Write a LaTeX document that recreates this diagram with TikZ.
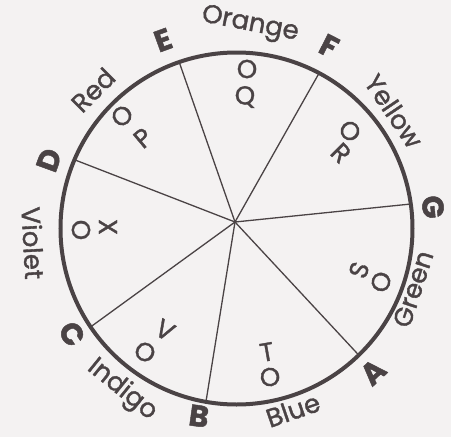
\documentclass[tikz,border=0pt]{standalone}
\usepackage{fontspec}
\setmainfont{Poppins}
\newfontfamily\handfont[FakeBold=1.3]{Poppins}
\newfontfamily\handbold[FakeBold=1.5]{Poppins Bold}
\definecolor{ink}{HTML}{4A4345}
\definecolor{paper}{HTML}{F4F2F2}
\tikzset{
  colname/.style={text=ink, font=\handfont\fontsize{26}{26}\selectfont, inner sep=0pt},
  pointlbl/.style={text=ink, font=\handbold\fontsize{30}{30}\selectfont, inner sep=0pt},
  innerlbl/.style={text=ink, font=\handfont\fontsize{26}{26}\selectfont, inner sep=0pt},
  spoke/.style={draw=ink, line width=1.3pt},
  rim/.style={circle, draw=ink, line width=4pt, minimum size=352pt, inner sep=0pt, outer sep=0pt}
}
\begin{document}
\begin{tikzpicture}[x=1pt,y=1pt]
\fill[paper] (0,0) rectangle (451,-437);
\useasboundingbox (0,0) rectangle (451,-437);
\node[rim] (wheel) at (236.5,-228.5) {};
\coordinate (hub) at (235,-222);
\foreach \n/\a in {E/109.2, F/62.3, G/8.6, A/-46.7, B/-100.9, C/-146.9, D/157.2}{
  \coordinate (p\n) at (wheel.\a);
}
\draw[spoke] (hub) -- (pE);
\draw[spoke] (hub) -- (pF);
\draw[spoke] (hub) -- (pG);
\draw[spoke] (hub) -- (pA);
\draw[spoke] (hub) -- (pB);
\draw[spoke] (hub) -- (pC);
\draw[spoke] (hub) -- (pD);
% colour names
\node[colname, rotate=-11] (orange) at (250,-25) {Orange};
\node[colname, rotate=-56] (yellow) at (394,-111) {Yellow};
\node[colname, rotate=72] (green) at (413,-289) {Green};
\node[colname, rotate=19] (blue) at (293,-410) {Blue};
\node[colname, rotate=-39] (indigo) at (122,-390) {Indigo};
\node[colname, rotate=-87] (violet) at (33,-243) {Violet};
\node[colname, rotate=45] (red) at (93,-90) {Red};
% point letters
\node[pointlbl, rotate=20] (lE) at (163,-40) {E};
\node[pointlbl, rotate=-27] (lF) at (329,-46) {F};
\node[pointlbl, rotate=-84] (lG) at (433,-207) {G};
\node[pointlbl, rotate=43] (lA) at (373,-372) {A};
\node[pointlbl, rotate=-8] (lB) at (199,-416) {B};
\node[pointlbl, rotate=-57] (lC) at (72,-334) {C};
\node[pointlbl, rotate=70] (lD) at (49,-160) {D};
% inner labels
\node[innerlbl] (o1) at (247,-69) {O};
\node[innerlbl] (q1) at (245,-97) {Q};
\node[innerlbl, rotate=-45] (o2) at (350,-131) {O};
\node[innerlbl, rotate=-45] (r2) at (341,-153) {R};
\node[innerlbl, rotate=70] (s3) at (359,-270) {S};
\node[innerlbl, rotate=70] (o3) at (381,-282) {O};
\node[innerlbl, rotate=10] (t4) at (267,-352) {T};
\node[innerlbl, rotate=10] (o4) at (270,-377) {O};
\node[innerlbl, rotate=-30] (v5) at (165,-330) {V};
\node[innerlbl, rotate=-30] (o5) at (145,-352) {O};
\node[innerlbl, rotate=90] (o6) at (81,-230) {O};
\node[innerlbl, rotate=90] (x6) at (108,-227) {X};
\node[innerlbl, rotate=40] (o7) at (122,-116) {O};
\node[innerlbl, rotate=40] (p7) at (143,-138) {P};
\end{tikzpicture}
\end{document}
